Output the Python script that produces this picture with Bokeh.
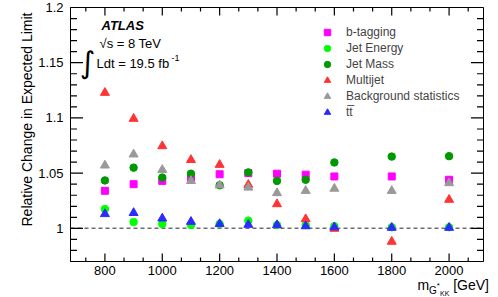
import math
from bokeh.plotting import figure
from bokeh.layouts import column
from bokeh.models import (FixedTicker, NumeralTickFormatter, LinearAxis, Label,
                          Span, Legend, LegendItem, Range1d, Title, Div)
from bokeh.embed import file_html
from bokeh.resources import INLINE

# ---------------- data ----------------
masses = [800, 900, 1000, 1100, 1200, 1300, 1400, 1500, 1600, 1800, 2000]
btagging = [1.034, 1.040, 1.043, 1.046, 1.049, 1.050, 1.0495, 1.0486, 1.047, 1.047, 1.044]
jet_energy = [1.0175, 1.0057, 1.004, 1.003, 1.004, 1.007, 1.003, 1.003, 1.002, 1.001, 1.001]
jet_mass = [1.0434, 1.055, 1.046, 1.0495, 1.039, 1.0507, 1.043, 1.044, 1.0597, 1.065, 1.0654]
multijet = [1.1228, 1.0993, 1.0745, 1.062, 1.0576, 1.0395, 1.022, 1.0084, 0.9997, 0.988, 1.026]
bkg_stat = [1.057, 1.067, 1.053, 1.043, 1.039, 1.037, 1.032, 1.034, 1.036, 1.034, 1.041]
ttbar = [1.013, 1.014, 1.009, 1.006, 1.004, 1.0033, 1.003, 1.002, 1.001, 1.0006, 1.0006]

x_major = [800, 1000, 1200, 1400, 1600, 1800, 2000]
y_major = [1.0, 1.05, 1.1, 1.15, 1.2]

FONT = "Liberation Sans"
X0, X1 = 680, 2120
Y0, Y1 = 0.97, 1.2

W, H = 496, 278
p = figure(width=W, height=H, output_backend="svg", toolbar_location=None,
           x_range=Range1d(X0, X1), y_range=Range1d(Y0, Y1),
           min_border_left=70, min_border_right=13, min_border_top=7, min_border_bottom=17,
           x_axis_type=None, y_axis_type=None)
p.grid.visible = False
p.outline_line_color = "black"
p.outline_line_width = 1
p.background_fill_color = "white"
p.border_fill_color = "white"

# frame geometry in page pixels (for text placement)
FL, FR, FT, FB = 70, 483, 7, 261
def dx(X):
    return X0 + (X - FL) / (FR - FL) * (X1 - X0)
def dy(Y):
    return Y0 + (FB - Y) / (FB - FT) * (Y1 - Y0)
PX_X = (X1 - X0) / (FR - FL)   # data units per pixel
PX_Y = (Y1 - Y0) / (FB - FT)

x_minor = [800 + k * 200 / 3 for k in range(-1, 20) if X0 < 800 + k * 200 / 3 < X1 and k % 3 != 0]
y_minor = [round(0.97 + k * 0.01, 2) for k in range(0, 24) if k % 5 != 3]

def style(ax):
    ax.major_tick_in = 0
    ax.major_tick_out = 0
    ax.minor_tick_in = 0
    ax.minor_tick_out = 0
    ax.axis_line_color = "black"
    ax.major_label_text_font = FONT
    ax.major_label_text_color = "black"
    ax.major_label_text_font_size = "13px"

xb = LinearAxis(ticker=FixedTicker(ticks=x_major, minor_ticks=[])); style(xb)
xb.major_label_standoff = 4
yl = LinearAxis(ticker=FixedTicker(ticks=y_major, minor_ticks=[]),
                formatter=NumeralTickFormatter(format="0.[00]")); style(yl)
yl.major_label_standoff = 7
p.add_layout(xb, "below")
p.add_layout(yl, "left")

# inward ticks on all four sides
TW = 1.2
def xticks(xs, length_px):
    n = len(xs)
    L = length_px * PX_Y
    p.segment(x0=xs, y0=[Y0] * n, x1=xs, y1=[Y0 + L] * n, line_color="black", line_width=TW)
    p.segment(x0=xs, y0=[Y1] * n, x1=xs, y1=[Y1 - L] * n, line_color="black", line_width=TW)
def yticks(ys, length_px):
    n = len(ys)
    L = length_px * PX_X
    p.segment(x0=[X0] * n, y0=ys, x1=[X0 + L] * n, y1=ys, line_color="black", line_width=TW)
    p.segment(x0=[X1] * n, y0=ys, x1=[X1 - L] * n, y1=ys, line_color="black", line_width=TW)
xticks(x_major, 8)
xticks(x_minor, 4)
yticks(y_major, 12.5)
yticks(y_minor, 6.5)

p.add_layout(Span(location=1.0, dimension="width", line_color="#6e6e6e",
                  line_dash="4 3", line_width=1.5, level="underlay"))

r1 = p.scatter(masses, btagging, marker="square", size=7, color="#ff00ff")
r2 = p.scatter(masses, jet_energy, marker="circle", size=7.5, color="#00ff00")
r3 = p.scatter(masses, jet_mass, marker="circle", size=7.5, color="#009900")
r4 = p.scatter(masses, multijet, marker="triangle", size=9, color="#ff3333")
r5 = p.scatter(masses, bkg_stat, marker="triangle", size=9, color="#999999")
r6 = p.scatter(masses, ttbar, marker="triangle", size=9, color="#2b2bff")

legend = Legend(items=[LegendItem(label="b-tagging", renderers=[r1]),
                       LegendItem(label="Jet Energy", renderers=[r2]),
                       LegendItem(label="Jet Mass", renderers=[r3]),
                       LegendItem(label="Multijet", renderers=[r4]),
                       LegendItem(label="Background statistics", renderers=[r5]),
                       LegendItem(label="tt\u0305", renderers=[r6])],
                location=(249, 141), padding=0, margin=0, spacing=0,
                glyph_width=16, glyph_height=16, label_height=16, label_standoff=11,
                label_text_font=FONT, label_text_font_size="12px",
                background_fill_alpha=0, border_line_color=None)
p.add_layout(legend)

def lab(X, Y, text, size, **kw):
    opts = dict(text_font=FONT, text_font_size=size, text_color="black",
                text_baseline="middle", text_align="left")
    opts.update(kw)
    p.add_layout(Label(x=dx(X), y=dy(Y), text=text, **opts))

lab(101, 25, "ATLAS", "13px", text_font_style="bold italic")
lab(99, 43, "\u221as = 8 TeV", "13px")
lab(87, 62, "\u222b", "30px", text_font="DejaVu Sans", text_align="center")
lab(96, 63, "Ldt = 19.5 fb", "13px")
lab(171, 57, "-1", "9px")

# y-axis title
p.add_layout(Title(text="Relative Change in Expected Limit", align="right", offset=5,
                   standoff=1, text_font=FONT, text_font_size="14px",
                   text_font_style="normal", text_color="black"), "left")

# x-axis title (HTML text with sub/superscripts)
xtitle = Div(
    text=('<div style="width:489px;text-align:right;font-family:\'Liberation Sans\';'
          'font-size:14px;line-height:14px;color:black;white-space:nowrap;margin-top:-1px">'
          'm<span style="font-size:10px;vertical-align:-4px;line-height:0">G</span>'
          '<span style="font-size:8px;vertical-align:2px;line-height:0">*</span>'
          '<span style="font-size:7px;vertical-align:-6px;line-height:0">KK</span>'
          '&nbsp;[GeV]</div>'),
    width=W, height=18, margin=(0, 0, 0, 0))

layout = column(p, xtitle, spacing=0)
open("out.html", "w").write(file_html(layout, INLINE))
